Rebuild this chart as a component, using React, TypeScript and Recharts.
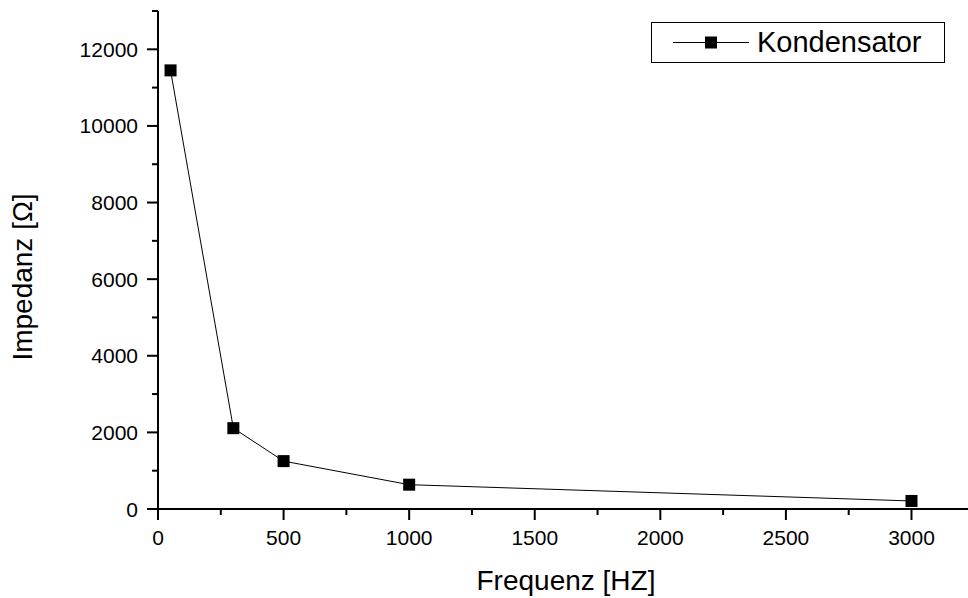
import React from 'react';
import { LineChart, Line, XAxis, YAxis, Legend } from 'recharts';

const frequencies = [50, 300, 500, 1000, 3000];
const impedance = [11450, 2110, 1250, 635, 210];

const xTicks = [0, 250, 500, 750, 1000, 1250, 1500, 1750, 2000, 2250, 2500, 2750, 3000];
const yTicks = [0, 1000, 2000, 3000, 4000, 5000, 6000, 7000, 8000, 9000, 10000, 11000, 12000, 13000];

const data = frequencies.map((f, i) => ({ f, z: impedance[i] }));

const FONT = '"Liberation Sans", Arial, sans-serif';

const XTick = (props: any) => {
  const { x, y, payload } = props;
  const major = payload.value % 500 === 0;
  return (
    <g>
      <line x1={x} x2={x} y1={y} y2={y + (major ? 11 : 6)} stroke="#000" strokeWidth={2} />
      {major && (
        <text x={x} y={y + 36} textAnchor="middle" fontSize={21} fontFamily={FONT} fill="#000">
          {payload.value}
        </text>
      )}
    </g>
  );
};

const YTick = (props: any) => {
  const { x, y, payload } = props;
  const major = payload.value % 2000 === 0 && payload.value <= 12000;
  return (
    <g>
      <line x1={x} x2={x - (major ? 11 : 6)} y1={y} y2={y} stroke="#000" strokeWidth={2} />
      {major && (
        <text x={x - 20} y={y + 7.5} textAnchor="end" fontSize={21} fontFamily={FONT} fill="#000">
          {payload.value}
        </text>
      )}
    </g>
  );
};

const SquareDot = (props: any) => {
  const { cx, cy } = props;
  if (cx == null || cy == null) return null;
  return <rect x={cx - 6} y={cy - 6} width={12} height={12} fill="#000" />;
};

const LegendBox = () => (
  <div
    style={{
      width: 294,
      height: 41,
      border: '1px solid #000',
      boxSizing: 'border-box',
      display: 'flex',
      alignItems: 'center',
      background: '#fff',
    }}
  >
    <svg width={100} height={39} style={{ display: 'block' }}>
      <line x1={21} x2={97} y1={19.5} y2={19.5} stroke="#000" strokeWidth={1} />
      <rect x={53} y={13.5} width={12} height={12} fill="#000" />
    </svg>
    <span style={{ fontFamily: FONT, fontSize: 29, color: '#000', marginLeft: 5, lineHeight: '39px' }}>
      Kondensator
    </span>
  </div>
);

export default function App() {
  return (
    <div style={{ position: 'absolute', left: 0, top: 0, background: '#fff' }}>
      <LineChart
        width={968}
        height={598}
        data={data}
        margin={{ top: 11, right: 0, left: 58, bottom: 29 }}
      >
        <XAxis
          dataKey="f"
          type="number"
          domain={[0, 3225]}
          ticks={xTicks}
          interval={0}
          tickSize={0}
          tickMargin={0}
          tickLine={false}
          tick={<XTick />}
          height={60}
          axisLine={{ stroke: '#000', strokeWidth: 2 }}
          label={(p: any) => {
            const vb = p.viewBox;
            return (
              <text
                x={vb.x + vb.width / 2 + 3}
                y={590}
                textAnchor="middle"
                fontSize={28}
                fontFamily={FONT}
                fill="#000"
              >
                Frequenz [HZ]
              </text>
            );
          }}
        />
        <YAxis
          type="number"
          domain={[0, 13000]}
          ticks={yTicks}
          interval={0}
          tickSize={0}
          tickMargin={0}
          tickLine={false}
          tick={<YTick />}
          width={100}
          axisLine={{ stroke: '#000', strokeWidth: 2 }}
          label={() => (
            <text
              x={0}
              y={0}
              transform="translate(32, 277) rotate(-90)"
              textAnchor="middle"
              fontSize={28}
              fontFamily={FONT}
              fill="#000"
            >
              Impedanz [Ω]
            </text>
          )}
        />
        <Legend
          layout="horizontal"
          verticalAlign="middle"
          align="center"
          content={() => <LegendBox />}
          wrapperStyle={{ position: 'absolute', top: 22, left: 651, width: 294 }}
        />
        <Line
          type="linear"
          dataKey="z"
          name="Kondensator"
          stroke="#000"
          strokeWidth={1}
          dot={<SquareDot />}
          activeDot={false}
          isAnimationActive={false}
        />
      </LineChart>
    </div>
  );
}
